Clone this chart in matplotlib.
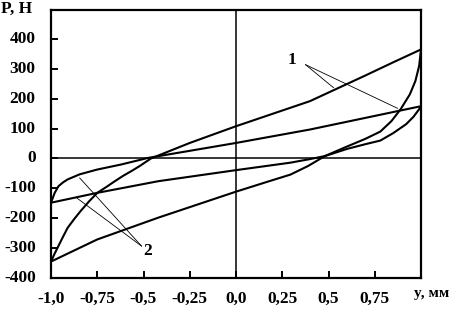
import matplotlib
matplotlib.use("Agg")
import matplotlib.pyplot as plt

# Loop 1 (large hysteresis loop)
loop1_up_x = [-1.0, -0.98, -0.96, -0.935, -0.91, -0.875, -0.84, -0.795, -0.75, -0.70, -0.655, -0.61,
              -0.565, -0.52, -0.46, -0.25, 0.0, 0.2, 0.4, 0.55, 0.7, 0.85, 1.0]
loop1_up_p = [-345, -318, -293, -262, -232, -203, -176, -144, -115, -95, -76, -58,
              -42, -25, 0, 52, 108, 150, 192, 235, 278, 322, 365]
loop1_dn_x = [-1.0, -0.75, -0.42, 0.0, 0.2, 0.294, 0.39, 0.48, 0.60, 0.70, 0.78, 0.84,
              0.89, 0.94, 0.97, 0.99, 1.0]
loop1_dn_p = [-345, -271, -198, -111, -72, -54, -25, 8, 40, 66, 90, 125,
              165, 215, 260, 310, 365]

# Loop 2 (small hysteresis loop)
loop2_up_x = [-1.0, -0.98, -0.96, -0.935, -0.91, -0.845, -0.75, -0.62, -0.475, 0.0, 0.40, 1.0]
loop2_up_p = [-148, -115, -93, -80, -70, -53, -37, -20, 2, 52, 97, 175]
loop2_dn_x = [-1.0, -0.75, -0.42, 0.0, 0.294, 0.40, 0.48, 0.60, 0.70, 0.78, 0.85, 0.92, 0.96, 0.99, 1.0]
loop2_dn_p = [-148, -115, -76, -39, -14, -2, 8, 32, 48, 60, 85, 115, 140, 165, 175]

x_ticks = [-1.0, -0.75, -0.5, -0.25, 0.0, 0.25, 0.5, 0.75]
x_labels = ["-1,0", "-0,75", "-0,5", "-0,25", "0,0", "0,25", "0,5", "0,75"]
y_ticks = [-400, -300, -200, -100, 0, 100, 200, 300, 400]
y_labels = ["-400", "-300", "-200", "-100", "0", "100", "200", "300", "400"]

# leader lines: label position, then pointed targets
lab1 = (0.30, 330)
lead1_start = (0.376, 314)
lead1_targets = [(0.527, 237), (0.873, 168)]
lab2 = (-0.475, -310)
lead2_start = (-0.511, -293)
lead2_targets = [(-0.845, -65), (-0.863, -131)]

FONT = dict(family="Liberation Serif", weight="bold")

fig = plt.figure(figsize=(4.53, 3.12), dpi=100)
ax = fig.add_axes([51/453, 34/312, 370/453, 268/312])

ax.set_xlim(-1.0, 1.0)
ax.set_ylim(-400, 497)

ax.axhline(0, color="black", lw=1.1, zorder=1)
ax.axvline(0, color="black", lw=1.1, zorder=1)

for xs, ps in [(loop1_up_x, loop1_up_p), (loop1_dn_x, loop1_dn_p),
               (loop2_up_x, loop2_up_p), (loop2_dn_x, loop2_dn_p)]:
    ax.plot(xs, ps, color="black", lw=1.5, solid_joinstyle="round", zorder=3)

for tx, ty in lead1_targets:
    ax.plot([lead1_start[0], tx], [lead1_start[1], ty], color="black", lw=0.6, zorder=2)
for tx, ty in lead2_targets:
    ax.plot([lead2_start[0], tx], [lead2_start[1], ty], color="black", lw=0.6, zorder=2)

ax.text(lab1[0], lab1[1], "1", ha="center", va="center", fontsize=12.5, **FONT)
ax.text(lab2[0], lab2[1], "2", ha="center", va="center", fontsize=12.5, **FONT)

ax.set_xticks(x_ticks)
ax.set_xticklabels(x_labels, fontsize=12.5, **FONT)
ax.set_yticks(y_ticks)
ax.set_yticklabels(y_labels, fontsize=12.5, **FONT)
ax.tick_params(axis="both", direction="in", length=5, width=1.4, color="black")
ax.tick_params(axis="x", pad=9)
ax.tick_params(axis="y", pad=11)
for lbl in ax.get_yticklabels():
    lbl.set_verticalalignment("center")

for s in ax.spines.values():
    s.set_linewidth(1.6)
    s.set_color("black")

fig.text(432/453, 1 - 297/312, "y, мм", ha="center", va="baseline", fontsize=11, **FONT)
fig.text(1/453, 1 - 1/312, "P, Н", ha="left", va="top", fontsize=12.5, **FONT)

fig.savefig("out.png", dpi=100)
